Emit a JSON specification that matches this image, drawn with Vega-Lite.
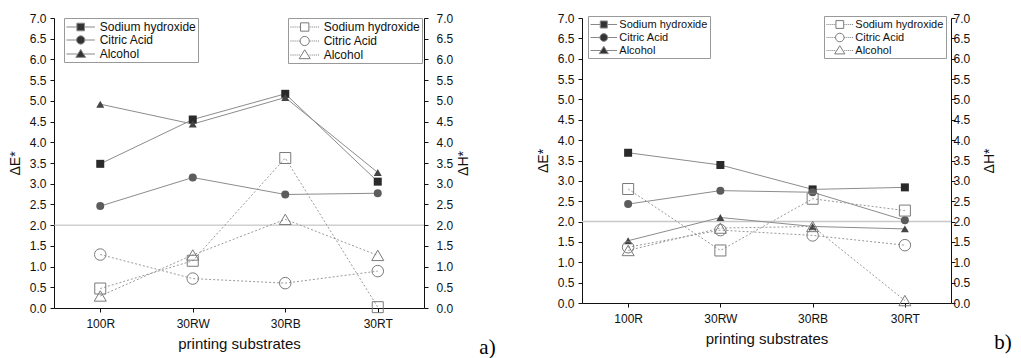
{
  "$schema": "https://vega.github.io/schema/vega-lite/v6.json",
  "background": "white",
  "padding": {"left": 8, "top": 12, "right": 2, "bottom": 0},
  "spacing": 40,
  "config": {
    "view": {"stroke": null},
    "font": "Liberation Sans",
    "axis": {"domainColor": "#111", "tickColor": "#111", "labelColor": "#111", "titleColor": "#111", "labelFont": "Liberation Sans", "titleFont": "Liberation Sans", "labelFontSize": 12, "titleFontSize": 14, "titleFontWeight": "normal", "grid": false, "tickWidth": 1, "domainWidth": 1}
  },
  "data": {"values": [
    {"panel": "a", "measure": "dE", "treatment": "Sodium hydroxide", "substrate": "100R", "value": 3.48},
    {"panel": "a", "measure": "dE", "treatment": "Sodium hydroxide", "substrate": "30RW", "value": 4.55},
    {"panel": "a", "measure": "dE", "treatment": "Sodium hydroxide", "substrate": "30RB", "value": 5.17},
    {"panel": "a", "measure": "dE", "treatment": "Sodium hydroxide", "substrate": "30RT", "value": 3.05},
    {"panel": "a", "measure": "dE", "treatment": "Citric Acid", "substrate": "100R", "value": 2.46},
    {"panel": "a", "measure": "dE", "treatment": "Citric Acid", "substrate": "30RW", "value": 3.15},
    {"panel": "a", "measure": "dE", "treatment": "Citric Acid", "substrate": "30RB", "value": 2.74},
    {"panel": "a", "measure": "dE", "treatment": "Citric Acid", "substrate": "30RT", "value": 2.77},
    {"panel": "a", "measure": "dE", "treatment": "Alcohol", "substrate": "100R", "value": 4.92},
    {"panel": "a", "measure": "dE", "treatment": "Alcohol", "substrate": "30RW", "value": 4.44},
    {"panel": "a", "measure": "dE", "treatment": "Alcohol", "substrate": "30RB", "value": 5.08},
    {"panel": "a", "measure": "dE", "treatment": "Alcohol", "substrate": "30RT", "value": 3.27},
    {"panel": "a", "measure": "dH", "treatment": "Sodium hydroxide", "substrate": "100R", "value": 0.47},
    {"panel": "a", "measure": "dH", "treatment": "Sodium hydroxide", "substrate": "30RW", "value": 1.14},
    {"panel": "a", "measure": "dH", "treatment": "Sodium hydroxide", "substrate": "30RB", "value": 3.62},
    {"panel": "a", "measure": "dH", "treatment": "Sodium hydroxide", "substrate": "30RT", "value": 0.02},
    {"panel": "a", "measure": "dH", "treatment": "Citric Acid", "substrate": "100R", "value": 1.29},
    {"panel": "a", "measure": "dH", "treatment": "Citric Acid", "substrate": "30RW", "value": 0.71},
    {"panel": "a", "measure": "dH", "treatment": "Citric Acid", "substrate": "30RB", "value": 0.6},
    {"panel": "a", "measure": "dH", "treatment": "Citric Acid", "substrate": "30RT", "value": 0.89},
    {"panel": "a", "measure": "dH", "treatment": "Alcohol", "substrate": "100R", "value": 0.29},
    {"panel": "a", "measure": "dH", "treatment": "Alcohol", "substrate": "30RW", "value": 1.28},
    {"panel": "a", "measure": "dH", "treatment": "Alcohol", "substrate": "30RB", "value": 2.14},
    {"panel": "a", "measure": "dH", "treatment": "Alcohol", "substrate": "30RT", "value": 1.27},
    {"panel": "b", "measure": "dE", "treatment": "Sodium hydroxide", "substrate": "100R", "value": 3.69},
    {"panel": "b", "measure": "dE", "treatment": "Sodium hydroxide", "substrate": "30RW", "value": 3.39},
    {"panel": "b", "measure": "dE", "treatment": "Sodium hydroxide", "substrate": "30RB", "value": 2.79},
    {"panel": "b", "measure": "dE", "treatment": "Sodium hydroxide", "substrate": "30RT", "value": 2.84},
    {"panel": "b", "measure": "dE", "treatment": "Citric Acid", "substrate": "100R", "value": 2.43},
    {"panel": "b", "measure": "dE", "treatment": "Citric Acid", "substrate": "30RW", "value": 2.76},
    {"panel": "b", "measure": "dE", "treatment": "Citric Acid", "substrate": "30RB", "value": 2.72},
    {"panel": "b", "measure": "dE", "treatment": "Citric Acid", "substrate": "30RT", "value": 2.03},
    {"panel": "b", "measure": "dE", "treatment": "Alcohol", "substrate": "100R", "value": 1.53},
    {"panel": "b", "measure": "dE", "treatment": "Alcohol", "substrate": "30RW", "value": 2.1},
    {"panel": "b", "measure": "dE", "treatment": "Alcohol", "substrate": "30RB", "value": 1.88},
    {"panel": "b", "measure": "dE", "treatment": "Alcohol", "substrate": "30RT", "value": 1.82},
    {"panel": "b", "measure": "dH", "treatment": "Sodium hydroxide", "substrate": "100R", "value": 2.8},
    {"panel": "b", "measure": "dH", "treatment": "Sodium hydroxide", "substrate": "30RW", "value": 1.29},
    {"panel": "b", "measure": "dH", "treatment": "Sodium hydroxide", "substrate": "30RB", "value": 2.56},
    {"panel": "b", "measure": "dH", "treatment": "Sodium hydroxide", "substrate": "30RT", "value": 2.27},
    {"panel": "b", "measure": "dH", "treatment": "Citric Acid", "substrate": "100R", "value": 1.37},
    {"panel": "b", "measure": "dH", "treatment": "Citric Acid", "substrate": "30RW", "value": 1.79},
    {"panel": "b", "measure": "dH", "treatment": "Citric Acid", "substrate": "30RB", "value": 1.66},
    {"panel": "b", "measure": "dH", "treatment": "Citric Acid", "substrate": "30RT", "value": 1.42},
    {"panel": "b", "measure": "dH", "treatment": "Alcohol", "substrate": "100R", "value": 1.29},
    {"panel": "b", "measure": "dH", "treatment": "Alcohol", "substrate": "30RW", "value": 1.84},
    {"panel": "b", "measure": "dH", "treatment": "Alcohol", "substrate": "30RB", "value": 1.88},
    {"panel": "b", "measure": "dH", "treatment": "Alcohol", "substrate": "30RT", "value": 0.06}
  ]},
  "hconcat": [
    {
      "width": 370, "height": 290,
      "title": {"text": "a)", "orient": "bottom", "anchor": "end", "font": "Liberation Serif", "fontSize": 21, "fontWeight": "normal", "color": "#000", "dx": 25, "dy": -14, "offset": 0},
      "layer": [
        {"layer": [
          {"data": {"values": [{"ref": 2}]}, "mark": {"type": "rule", "color": "#b8b8b8", "strokeWidth": 1},
           "encoding": {"y": {"field": "ref", "type": "quantitative", "scale": {"domain": [0, 7], "nice": false}}}},
          {"transform": [{"filter": "datum.panel === 'a' && datum.measure === 'dE'"}],
           "mark": {"type": "line", "color": "#8c8c8c", "strokeWidth": 1},
           "encoding": {
             "x": {"field": "substrate", "type": "nominal", "scale": {"type": "point", "padding": 0.5, "domain": ["100R", "30RW", "30RB", "30RT"]}, "axis": {"title": "printing substrates", "titleFontSize": 15, "labelAngle": 0, "tickSize": 4, "labelPadding": 6, "titlePadding": 7}},
             "y": {"field": "value", "type": "quantitative", "scale": {"domain": [0, 7], "nice": false},
               "axis": {"orient": "left", "title": "ΔE*", "titlePadding": 7, "labelPadding": 4, "labelOverlap": false, "tickSize": 4, "tickCount": 14, "format": ".1f"}},
             "detail": {"field": "treatment"}
           }},
          {"transform": [{"filter": "datum.panel === 'a' && datum.measure === 'dE'"}],
           "mark": {"type": "point", "filled": true, "opacity": 1, "strokeWidth": 0},
           "encoding": {
             "x": {"field": "substrate", "type": "nominal", "scale": {"type": "point", "padding": 0.5, "domain": ["100R", "30RW", "30RB", "30RT"]}},
             "y": {"field": "value", "type": "quantitative", "scale": {"domain": [0, 7], "nice": false}},
             "shape": {"field": "treatment", "type": "nominal", "scale": {"domain": ["Sodium hydroxide", "Citric Acid", "Alcohol"], "range": ["square", "circle", "triangle-up"]}, "legend": null},
             "color": {"field": "treatment", "type": "nominal", "scale": {"domain": ["Sodium hydroxide", "Citric Acid", "Alcohol"], "range": ["#2a2a2a", "#5c5c5c", "#444444"]}, "legend": null},
             "size": {"field": "treatment", "type": "nominal", "scale": {"domain": ["Sodium hydroxide", "Citric Acid", "Alcohol"], "range": [64, 64, 80]}, "legend": null}
           }},
          {"transform": [{"filter": "datum.panel === 'none'"}],
           "mark": {"type": "point", "filled": true, "color": "#333333", "stroke": "#888888", "strokeWidth": 1, "opacity": 1},
           "encoding": {
             "x": {"field": "substrate", "type": "nominal", "scale": {"type": "point", "padding": 0.5, "domain": ["100R", "30RW", "30RB", "30RT"]}},
             "y": {"field": "value", "type": "quantitative", "scale": {"domain": [0, 7], "nice": false}},
             "shape": {"field": "treatment", "type": "nominal", "scale": {"domain": ["Sodium hydroxide", "Citric Acid", "Alcohol"], "range": ["M-2.33,0H-0.62M0.62,0H2.33M-0.62,-0.62H0.62V0.62H-0.62Z", "M-2.33,0H-0.68M0.68,0H2.33M0.68,0A0.68,0.68,0,1,1,-0.68,0A0.68,0.68,0,1,1,0.68,0Z", "M-2.33,0H-0.46M0.46,0H2.33M0,-0.75L0.8,0.55H-0.8Z"]},
               "legend": {"title": null, "orient": "none", "legendX": 10, "legendY": 0, "strokeColor": "#999", "fillColor": "#fff", "padding": 2, "labelFont": "Liberation Sans", "labelFontSize": 12, "labelColor": "#111", "symbolSize": 150, "symbolStrokeWidth": 1, "symbolOffset": 7.7, "labelOffset": 12, "rowPadding": -2}}
           }}
        ], "resolve": {"scale": {"shape": "independent"}}},
        {"layer": [
          {"transform": [{"filter": "datum.panel === 'a' && datum.measure === 'dH'"}],
           "mark": {"type": "line", "color": "#9a9a9a", "strokeWidth": 1, "strokeDash": [2, 2]},
           "encoding": {
             "x": {"field": "substrate", "type": "nominal", "scale": {"type": "point", "padding": 0.5, "domain": ["100R", "30RW", "30RB", "30RT"]}},
             "y": {"field": "value", "type": "quantitative", "scale": {"domain": [0, 7], "nice": false},
               "axis": {"orient": "right", "title": "ΔH*", "titleAngle": 270, "titlePadding": 18, "labelPadding": 8, "labelOverlap": false, "tickSize": 4, "tickCount": 14, "format": ".1f"}},
             "detail": {"field": "treatment"}
           }},
          {"transform": [{"filter": "datum.panel === 'a' && datum.measure === 'dH'"}],
           "mark": {"type": "point", "filled": false, "opacity": 1, "strokeWidth": 1, "color": "#7a7a7a"},
           "encoding": {
             "x": {"field": "substrate", "type": "nominal", "scale": {"type": "point", "padding": 0.5, "domain": ["100R", "30RW", "30RB", "30RT"]}},
             "y": {"field": "value", "type": "quantitative", "scale": {"domain": [0, 7], "nice": false}},
             "shape": {"field": "treatment", "type": "nominal", "scale": {"domain": ["Sodium hydroxide", "Citric Acid", "Alcohol"], "range": ["square", "circle", "triangle-up"]}, "legend": null},
             "size": {"field": "treatment", "type": "nominal", "scale": {"domain": ["Sodium hydroxide", "Citric Acid", "Alcohol"], "range": [121, 144, 160]}, "legend": null}
           }},
          {"transform": [{"filter": "datum.panel === 'none'"}],
           "mark": {"type": "point", "filled": false, "color": "#7a7a7a", "strokeWidth": 1, "opacity": 1},
           "encoding": {
             "x": {"field": "substrate", "type": "nominal", "scale": {"type": "point", "padding": 0.5, "domain": ["100R", "30RW", "30RB", "30RT"]}},
             "y": {"field": "value", "type": "quantitative", "scale": {"domain": [0, 7], "nice": false}},
             "shape": {"field": "treatment", "type": "nominal", "scale": {"domain": ["Sodium hydroxide", "Citric Acid", "Alcohol"], "range": ["M-2.33,0H-2.16M-1.99,0H-1.82M-1.65,0H-1.48M-1.31,0H-1.14M-0.97,0H-0.8M0.8,0H0.97M1.14,0H1.31M1.48,0H1.65M1.82,0H1.99M2.16,0H2.33M-0.68,-0.68H0.68V0.68H-0.68Z", "M-2.33,0H-2.16M-1.99,0H-1.82M-1.65,0H-1.48M-1.31,0H-1.14M-0.97,0H-0.8M0.8,0H0.97M1.14,0H1.31M1.48,0H1.65M1.82,0H1.99M2.16,0H2.33M0.75,0A0.75,0.75,0,1,1,-0.75,0A0.75,0.75,0,1,1,0.75,0Z", "M-2.33,0H-2.16M-1.99,0H-1.82M-1.65,0H-1.48M-1.31,0H-1.14M-0.97,0H-0.8M0.8,0H0.97M1.14,0H1.31M1.48,0H1.65M1.82,0H1.99M2.16,0H2.33M0,-0.85L0.9,0.6H-0.9Z"]},
               "legend": {"title": null, "orient": "none", "legendX": 234, "legendY": 0, "strokeColor": "#999", "fillColor": "#fff", "padding": 2, "labelFont": "Liberation Sans", "labelFontSize": 12, "labelColor": "#111", "symbolSize": 150, "symbolStrokeWidth": 1, "symbolOffset": 7.7, "labelOffset": 12, "rowPadding": -2}}
           }}
        ], "resolve": {"scale": {"shape": "independent", "size": "independent"}}}
      ],
      "resolve": {"scale": {"y": "independent", "color": "independent", "shape": "independent", "size": "independent"}}
    },
    {
      "width": 369, "height": 285,
      "title": {"text": "b)", "orient": "bottom", "anchor": "end", "font": "Liberation Serif", "fontSize": 21, "fontWeight": "normal", "color": "#000", "dx": 15, "dy": -14, "offset": 0},
      "layer": [
        {"layer": [
          {"data": {"values": [{"ref": 2}]}, "mark": {"type": "rule", "color": "#c8c8c8", "strokeWidth": 1.5},
           "encoding": {"y": {"field": "ref", "type": "quantitative", "scale": {"domain": [0, 7], "nice": false}}}},
          {"transform": [{"filter": "datum.panel === 'b' && datum.measure === 'dE'"}],
           "mark": {"type": "line", "color": "#8c8c8c", "strokeWidth": 1},
           "encoding": {
             "x": {"field": "substrate", "type": "nominal", "scale": {"type": "point", "padding": 0.5, "domain": ["100R", "30RW", "30RB", "30RT"]}, "axis": {"title": "printing substrates", "titleFontSize": 15, "labelAngle": 0, "tickSize": 4, "labelPadding": 6, "titlePadding": 7}},
             "y": {"field": "value", "type": "quantitative", "scale": {"domain": [0, 7], "nice": false},
               "axis": {"orient": "left", "title": "ΔE*", "titlePadding": 7, "labelPadding": 4, "labelOverlap": false, "tickSize": 4, "tickCount": 14, "format": ".1f"}},
             "detail": {"field": "treatment"}
           }},
          {"transform": [{"filter": "datum.panel === 'b' && datum.measure === 'dE'"}],
           "mark": {"type": "point", "filled": true, "opacity": 1, "strokeWidth": 0},
           "encoding": {
             "x": {"field": "substrate", "type": "nominal", "scale": {"type": "point", "padding": 0.5, "domain": ["100R", "30RW", "30RB", "30RT"]}},
             "y": {"field": "value", "type": "quantitative", "scale": {"domain": [0, 7], "nice": false}},
             "shape": {"field": "treatment", "type": "nominal", "scale": {"domain": ["Sodium hydroxide", "Citric Acid", "Alcohol"], "range": ["square", "circle", "triangle-up"]}, "legend": null},
             "color": {"field": "treatment", "type": "nominal", "scale": {"domain": ["Sodium hydroxide", "Citric Acid", "Alcohol"], "range": ["#2a2a2a", "#5c5c5c", "#444444"]}, "legend": null},
             "size": {"field": "treatment", "type": "nominal", "scale": {"domain": ["Sodium hydroxide", "Citric Acid", "Alcohol"], "range": [64, 64, 80]}, "legend": null}
           }},
          {"transform": [{"filter": "datum.panel === 'none'"}],
           "mark": {"type": "point", "filled": true, "color": "#333333", "stroke": "#888888", "strokeWidth": 1, "opacity": 1},
           "encoding": {
             "x": {"field": "substrate", "type": "nominal", "scale": {"type": "point", "padding": 0.5, "domain": ["100R", "30RW", "30RB", "30RT"]}},
             "y": {"field": "value", "type": "quantitative", "scale": {"domain": [0, 7], "nice": false}},
             "shape": {"field": "treatment", "type": "nominal", "scale": {"domain": ["Sodium hydroxide", "Citric Acid", "Alcohol"], "range": ["M-2.33,0H-0.62M0.62,0H2.33M-0.62,-0.62H0.62V0.62H-0.62Z", "M-2.33,0H-0.68M0.68,0H2.33M0.68,0A0.68,0.68,0,1,1,-0.68,0A0.68,0.68,0,1,1,0.68,0Z", "M-2.33,0H-0.46M0.46,0H2.33M0,-0.75L0.8,0.55H-0.8Z"]},
               "legend": {"title": null, "orient": "none", "legendX": 6, "legendY": -2, "strokeColor": "#999", "fillColor": "#fff", "padding": 2, "labelFont": "Liberation Sans", "labelFontSize": 11, "labelColor": "#111", "symbolSize": 130, "symbolStrokeWidth": 1, "symbolOffset": 7.3, "labelOffset": 9, "rowPadding": -2}}
           }}
        ], "resolve": {"scale": {"shape": "independent"}}},
        {"layer": [
          {"transform": [{"filter": "datum.panel === 'b' && datum.measure === 'dH'"}],
           "mark": {"type": "line", "color": "#9a9a9a", "strokeWidth": 1, "strokeDash": [2, 2]},
           "encoding": {
             "x": {"field": "substrate", "type": "nominal", "scale": {"type": "point", "padding": 0.5, "domain": ["100R", "30RW", "30RB", "30RT"]}},
             "y": {"field": "value", "type": "quantitative", "scale": {"domain": [0, 7], "nice": false},
               "axis": {"orient": "right", "title": "ΔH*", "titleAngle": 270, "titlePadding": 27, "labelPadding": -2, "labelOverlap": false, "tickSize": 4, "tickCount": 14, "format": ".1f"}},
             "detail": {"field": "treatment"}
           }},
          {"transform": [{"filter": "datum.panel === 'b' && datum.measure === 'dH'"}],
           "mark": {"type": "point", "filled": false, "opacity": 1, "strokeWidth": 1, "color": "#7a7a7a"},
           "encoding": {
             "x": {"field": "substrate", "type": "nominal", "scale": {"type": "point", "padding": 0.5, "domain": ["100R", "30RW", "30RB", "30RT"]}},
             "y": {"field": "value", "type": "quantitative", "scale": {"domain": [0, 7], "nice": false}},
             "shape": {"field": "treatment", "type": "nominal", "scale": {"domain": ["Sodium hydroxide", "Citric Acid", "Alcohol"], "range": ["square", "circle", "triangle-up"]}, "legend": null},
             "size": {"field": "treatment", "type": "nominal", "scale": {"domain": ["Sodium hydroxide", "Citric Acid", "Alcohol"], "range": [121, 144, 160]}, "legend": null}
           }},
          {"transform": [{"filter": "datum.panel === 'none'"}],
           "mark": {"type": "point", "filled": false, "color": "#7a7a7a", "strokeWidth": 1, "opacity": 1},
           "encoding": {
             "x": {"field": "substrate", "type": "nominal", "scale": {"type": "point", "padding": 0.5, "domain": ["100R", "30RW", "30RB", "30RT"]}},
             "y": {"field": "value", "type": "quantitative", "scale": {"domain": [0, 7], "nice": false}},
             "shape": {"field": "treatment", "type": "nominal", "scale": {"domain": ["Sodium hydroxide", "Citric Acid", "Alcohol"], "range": ["M-2.33,0H-2.16M-1.99,0H-1.82M-1.65,0H-1.48M-1.31,0H-1.14M-0.97,0H-0.8M0.8,0H0.97M1.14,0H1.31M1.48,0H1.65M1.82,0H1.99M2.16,0H2.33M-0.68,-0.68H0.68V0.68H-0.68Z", "M-2.33,0H-2.16M-1.99,0H-1.82M-1.65,0H-1.48M-1.31,0H-1.14M-0.97,0H-0.8M0.8,0H0.97M1.14,0H1.31M1.48,0H1.65M1.82,0H1.99M2.16,0H2.33M0.75,0A0.75,0.75,0,1,1,-0.75,0A0.75,0.75,0,1,1,0.75,0Z", "M-2.33,0H-2.16M-1.99,0H-1.82M-1.65,0H-1.48M-1.31,0H-1.14M-0.97,0H-0.8M0.8,0H0.97M1.14,0H1.31M1.48,0H1.65M1.82,0H1.99M2.16,0H2.33M0,-0.85L0.9,0.6H-0.9Z"]},
               "legend": {"title": null, "orient": "none", "legendX": 242, "legendY": -2, "strokeColor": "#999", "fillColor": "#fff", "padding": 2, "labelFont": "Liberation Sans", "labelFontSize": 11, "labelColor": "#111", "symbolSize": 130, "symbolStrokeWidth": 1, "symbolOffset": 7.3, "labelOffset": 9, "rowPadding": -2}}
           }}
        ], "resolve": {"scale": {"shape": "independent", "size": "independent"}}}
      ],
      "resolve": {"scale": {"y": "independent", "color": "independent", "shape": "independent", "size": "independent"}}
    }
  ]
}
